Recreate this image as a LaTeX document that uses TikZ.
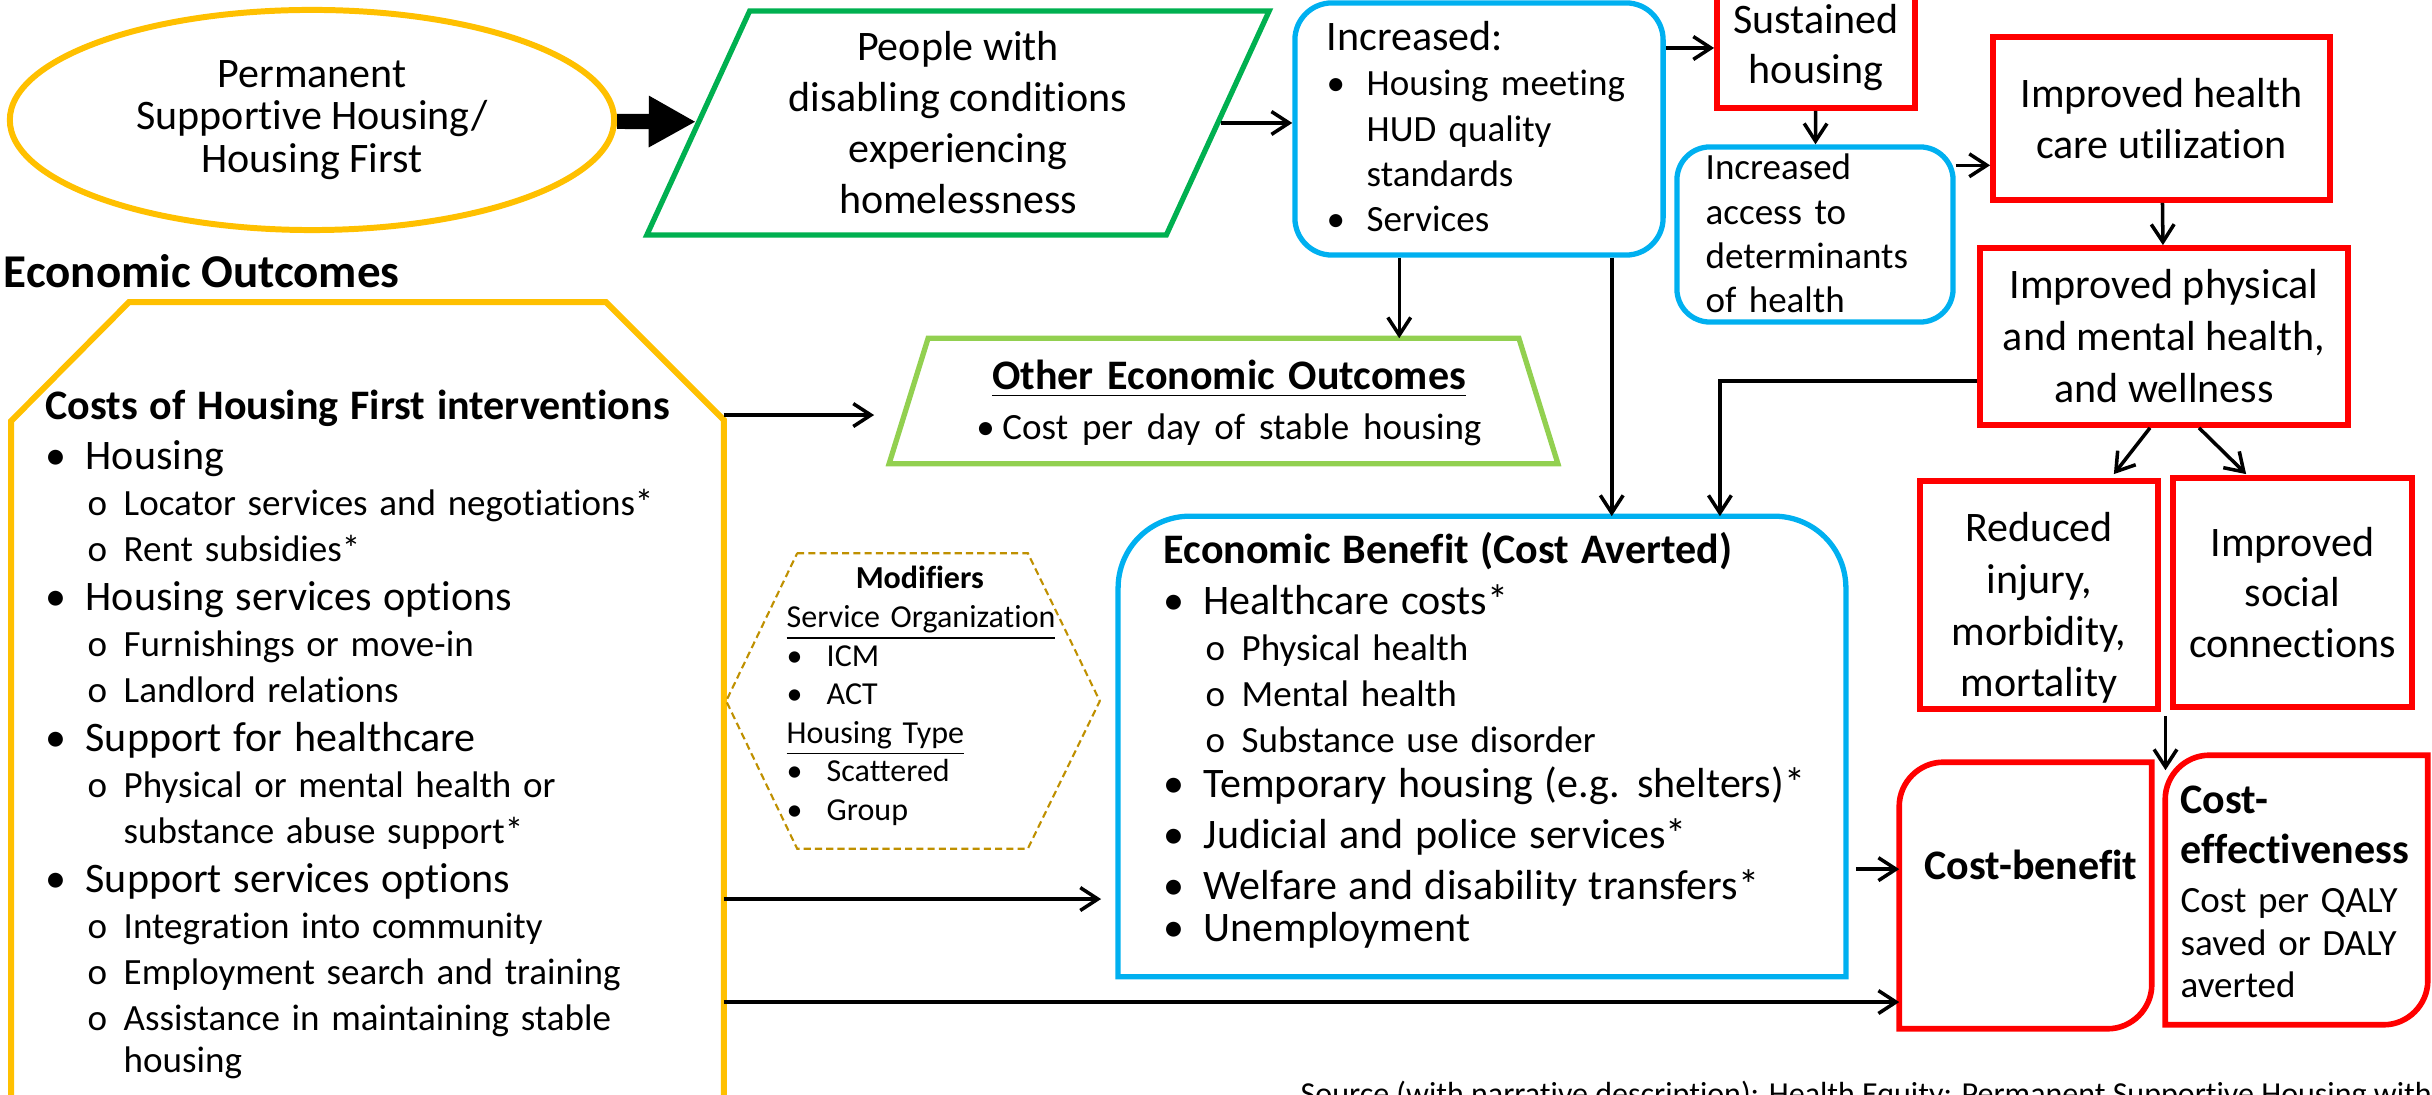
\documentclass[tikz,border=0pt]{standalone}
\usepackage{fontspec}
\setmainfont{Carlito}[Ligatures=NoCommon]
\usepackage{tikz}
\usetikzlibrary{shapes.geometric,arrows.meta,calc}

\definecolor{hfyellow}{HTML}{FFC000}
\definecolor{hfgreen}{HTML}{00B050}
\definecolor{hflime}{HTML}{92D050}
\definecolor{hfblue}{HTML}{00B0F0}
\definecolor{hfred}{HTML}{FF0000}
\definecolor{hfgold}{HTML}{BF9000}

% 1 unit of the picture = 0.01cm
\newcommand{\fbig}{\fontsize{11.95}{13.94}\selectfont}
\newcommand{\fsmall}{\fontsize{10.53}{13.09}\selectfont}
\newcommand{\bul}[1]{\par\noindent\makebox[0.40cm][l]{•}#1}
\newcommand{\cont}[1]{\par\noindent\hspace*{0.40cm}#1}
\newcommand{\itmA}[2][13.94]{\par\noindent\fontsize{11.95}{#1}\selectfont\makebox[0.40cm][l]{•}#2}
\newcommand{\itmB}[1]{\par\noindent\fsmall\hspace*{0.42cm}\makebox[0.36cm][l]{o}#1}
\newcommand{\itmC}[1]{\par\noindent\fsmall\hspace*{0.78cm}#1}

\begin{document}
\begin{tikzpicture}[x=0.01cm, y=-0.01cm]
        \tikzstyle{every node} = [inner sep=0pt]
        \tikzstyle{arr} = [line width=1pt, -{Straight Barb[length=5pt,width=6.5pt]}]
        \tikzstyle{bigarr} = [line width=4.3pt, -{Triangle[length=13.4pt,width=13.7pt]}]
        \tikzstyle{redbox} = [draw=hfred, line width=1.6pt, inner sep=3pt, align=center]
        \tikzstyle{bluebox} = [draw=hfblue, line width=1.5pt]
        \tikzstyle{txt} = [anchor=base west, align=left]
        \useasboundingbox (0,0) rectangle (2432,1095);

        % top row
        \node[ellipse, draw=hfyellow, line width=1.7pt, minimum width=6.04cm, minimum height=2.2cm,
              align=center, font=\fontsize{11.95}{12.09}\selectfont] (perm) at (312,120)
              {Permanent\\Supportive Housing/\\Housing First};
        \node[trapezium, trapezium left angle=60.6, trapezium right angle=119.4, trapezium stretches body,
              draw=hfgreen, line width=1.5pt, minimum width=6.22cm, minimum height=2.24cm,
              align=center, font=\fontsize{11.95}{14.51}\selectfont] (people) at (958,123)
              {People with\\disabling conditions\\experiencing\\homelessness};
        \node[bluebox, rounded corners=0.37cm, minimum width=3.68cm, minimum height=2.52cm] (incr) at (1479,129) {};
        \node[txt, text width=3.3cm, font=\fontsize{10.53}{12.8}\selectfont] (incrtxt) at (1326,51)
              {{\fontsize{11.95}{12.8}\selectfont Increased:}\bul{Housing meeting}\cont{HUD quality}\cont{standards}\bul{Services}};
        \node[redbox, minimum width=1.98cm, minimum height=1.2cm, font=\fontsize{11.95}{14.23}\selectfont] (sust) at (1816,48)
              {Sustained\\housing};
        \node[bluebox, rounded corners=0.33cm, minimum width=2.76cm, minimum height=1.75cm] (access) at (1815,234.5) {};
        \node[txt, text width=2.4cm, font=\fontsize{10.53}{12.52}\selectfont] (accesstxt) at (1705,180)
              {Increased\par access to\par determinants\par of health};
        \node[redbox, minimum width=3.37cm, minimum height=1.63cm, font=\fontsize{11.95}{14.51}\selectfont] (hcu) at (2161.5,118.5)
              {Improved health\\care utilization};
        \node[redbox, minimum width=3.68cm, minimum height=1.77cm, font=\fontsize{11.95}{14.8}\selectfont] (phys) at (2164,336.5)
              {Improved physical\\and mental health,\\and wellness};
        \node[redbox, minimum width=2.38cm, minimum height=2.28cm] (reduced) at (2039,595) {};
        \node[align=center, font=\fontsize{11.95}{14.7}\selectfont] (reducedtxt) at (2039,608)
              {Reduced\\injury,\\morbidity,\\mortality};
        \node[redbox, minimum width=2.39cm, minimum height=2.29cm, font=\fontsize{11.95}{14.37}\selectfont] (social) at (2292.5,592.5)
              {Improved\\social\\connections};

        % economic outcomes
        \node[anchor=base west, font=\fontsize{13.37}{16}\selectfont\bfseries] (outlbl) at (3,288) {Economic Outcomes};
        \node[minimum width=7.11cm, minimum height=8.07cm] (costs) at (367.5,706.5) {};
        \draw[hfyellow, line width=1.7pt] (costs.south west) -- ($(costs.north west)+(0,119)$) -- ($(costs.north west)+(118,0)$)
              -- ($(costs.north east)+(-118,0)$) -- ($(costs.north east)+(0,118)$) -- (costs.south east);
        \node[txt, text width=6.7cm] (coststxt) at (45,420)
              {{\bfseries\fbig Costs of Housing First interventions}
               \itmA{Housing}\itmB{Locator services and negotiations*}\itmB{Rent subsidies*}
               \itmA{Housing services options}\itmB{Furnishings or move-in}\itmB{Landlord relations}
               \itmA{Support for healthcare}\itmB{Physical or mental health or}\itmC{substance abuse support*}
               \itmA{Support services options}\itmB{Integration into community}\itmB{Employment search and training}
               \itmB{Assistance in maintaining stable}\itmC{housing}};

        \node[minimum width=6.67cm, minimum height=1.24cm] (other) at (1223.5,401) {};
        \draw[hflime, line width=1.5pt] ($(other.north west)+(39,0)$) -- ($(other.north east)+(-39,0)$)
              -- (other.south east) -- (other.south west) -- cycle;
        \node[anchor=base, text width=6cm, align=center, font=\fbig] (othertxt) at (1229,390)
              {\textbf{\underline{Other Economic Outcomes}}\par\fontsize{10.53}{12.8}\selectfont\makebox[0.26cm][l]{•}Cost per day of stable housing};

        \node[minimum width=3.72cm, minimum height=2.94cm] (mods) at (913,701) {};
        \draw[hfgold, line width=0.6pt, dash pattern=on 2pt off 1.2pt] ($(mods.north west)+(71,0)$) -- ($(mods.north east)+(-72,0)$)
              -- (mods.east) -- ($(mods.south east)+(-72,0)$) -- ($(mods.south west)+(71,0)$) -- (mods.west) -- cycle;
        \node[txt, text width=2.8cm, font=\fontsize{9.1}{10.95}\selectfont] (modtxt) at (786,589)
              {\makebox[2.66cm]{\bfseries Modifiers}\par\noindent\underline{Service Organization}\bul{ICM}\bul{ACT}
               \par\noindent\underline{Housing Type}\bul{Scattered}\bul{Group}};

        \node[minimum width=7.26cm, minimum height=4.59cm] (econ) at (1482,746.5) {};
        \draw[hfblue, line width=1.5pt] (econ.south west) -- ($(econ.north west)+(0,72)$)
              .. controls ($(econ.north west)+(0,32)$) and ($(econ.north west)+(32,0)$) .. ($(econ.north west)+(72,0)$)
              -- ($(econ.north east)+(-72,0)$)
              .. controls ($(econ.north east)+(-32,0)$) and ($(econ.north east)+(0,32)$) .. ($(econ.north east)+(0,72)$)
              -- (econ.south east) -- cycle;
        \node[txt, text width=6.8cm] (econtxt) at (1163,564)
              {{\bfseries\fbig Economic Benefit (Cost Averted)}
               \itmA[14.23]{Healthcare costs*}\itmB{Physical health}\itmB{Mental health}\itmB{Substance use disorder}
               \itmA[12.95]{Temporary housing (e.g. shelters)*}\itmA[14.51]{Judicial and police services*}
               \itmA[14.37]{Welfare and disability transfers*}\itmA[14.51]{Unemployment}};

        \node[minimum width=2.51cm, minimum height=2.65cm] (costben) at (2025.5,895.5) {};
        \node[minimum width=2.61cm, minimum height=2.68cm] (costeff) at (2296.5,890) {};
        \foreach \b in {costben, costeff}
            \draw[hfred, line width=1.6pt] ($(\b.north west)+(0,44)$)
              .. controls ($(\b.north west)+(0,20)$) and ($(\b.north west)+(20,0)$) .. ($(\b.north west)+(44,0)$)
              -- (\b.north east) -- ($(\b.south east)+(0,-44)$)
              .. controls ($(\b.south east)+(0,-20)$) and ($(\b.south east)+(-20,0)$) .. ($(\b.south east)+(-44,0)$)
              -- (\b.south west) -- cycle;
        \node[anchor=base, font=\fbig\bfseries] (cbtxt) at (2031,880) {Cost-benefit};
        \node[txt, text width=2.6cm] (cetxt) at (2180,814)
              {\fontsize{11.95}{13.94}\selectfont\bfseries Cost-\par effectiveness\par
               \mdseries\fontsize{10.53}{13.94}\selectfont Cost per QALY\par
               \fontsize{10.53}{12.38}\selectfont saved or DALY\par averted};

        \node[anchor=base west, font=\fontsize{9.1}{11}\selectfont] (src) at (1300,1105)
              {Source (with narrative description): Health Equity: Permanent Supportive Housing with};

        % connectors
        \draw[bigarr] (perm) -- (people);
        \draw[arr] (people.east) -- (people.east -| incr.west);
        \draw[arr] (sust.west -| incr.east) -- (sust.west);
        \foreach \from/\to in {sust/access, hcu/phys}
            \draw[arr] (\from) -- (\to);
        \draw[arr] ($(access.north east)+(0,21)$) coordinate (a0) -- (a0 -| hcu.west);
        \draw[arr] ($(incr.south west)+(107,0)$) coordinate (a1) -- (a1 |- other.north);
        \draw[arr] ($(incr.south east)+(-54,0)$) coordinate (a2) -- (a2 |- econ.north);
        \draw[arr] ($(phys.west)+(0,44.5)$) -| ($(econ.north east)+(-126,0)$);
        \draw[arr] ($(phys.south)+(-14,0)$) -- ($(reduced.north east)+(-47,-4)$);
        \draw[arr] ($(phys.south)+(35,0)$) -- ($(social.north west)+(76,-1)$);
        \coordinate (gap) at ($(reduced.south east)!0.5!(social.south west)+(0,5)$);
        \draw[arr] (gap) -- ($(gap |- costeff.north)+(0,15)$);
        \draw[arr, shorten >=0.15cm] ($(costs.north east)+(0,113)$) coordinate (c1) -- (c1 -| other.west);
        \draw[arr, shorten >=0.17cm] ($(costs.north east)+(0,597)$) coordinate (c2) -- (c2 -| econ.west);
        \draw[arr] ($(costs.north east)+(0,700)$) coordinate (c3) -- (c3 -| costben.west);
        \draw[arr, shorten <=0.1cm] ($(econ.north east)+(0,353)$) coordinate (e1) -- (e1 -| costben.west);
    \end{tikzpicture}
\end{document}
